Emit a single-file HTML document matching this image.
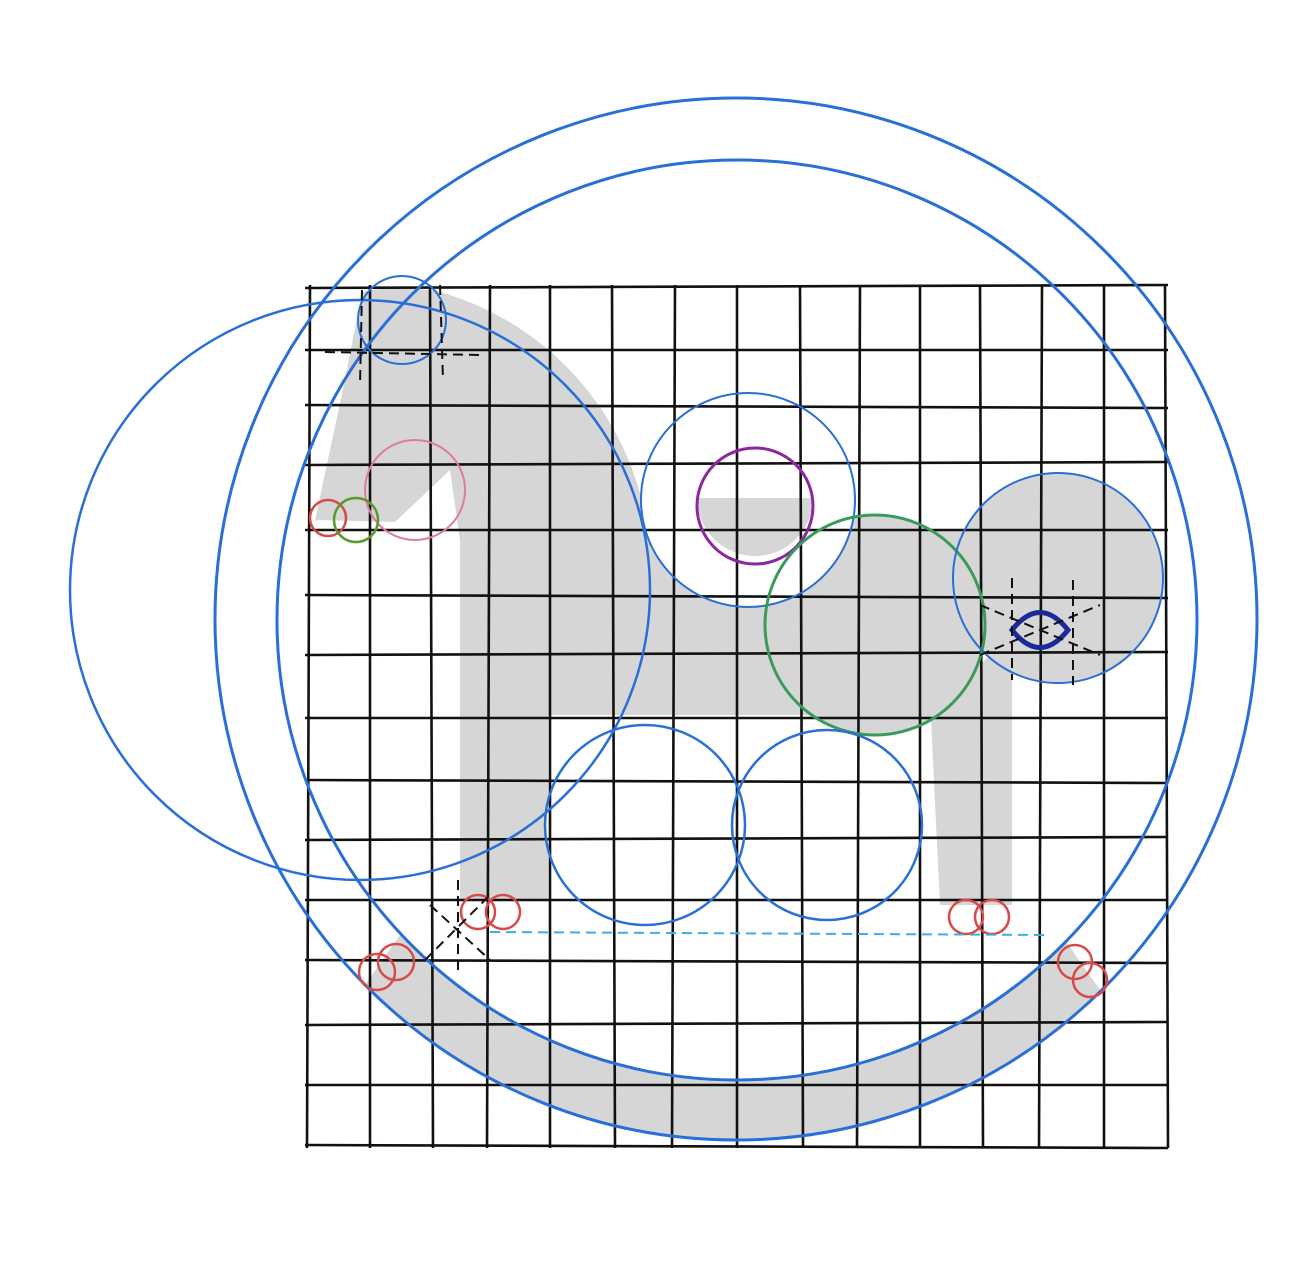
<!DOCTYPE html>
<html><head><meta charset="utf-8"><style>
html,body{margin:0;padding:0;background:#fff;}
svg{display:block;}
</style></head><body>
<svg width="1290" height="1266" viewBox="0 0 1290 1266">
<rect width="1290" height="1266" fill="#fff"/>
<g fill="#d6d6d6">
  <path d="M315,520 L345,380 L362,292 Q400,284 440,292 A290 290 0 0 1 650,590 L650,715 L548,715 L548,900 L460,900 L460,540 L450,470 L395,522 Z"/>
  <rect x="640" y="530" width="330" height="185"/>
  <circle cx="1058" cy="578" r="105"/>
  <path d="M930,700 L1012,640 L1012,905 L940,905 Z"/>
  <circle cx="875" cy="625" r="110"/>
  <path d="M365,985 A521 521 0 0 0 1100,990 L1065,940 A460 460 0 0 1 400,935 Z"/>
</g>
<g fill="#fff">
  <circle cx="748" cy="500" r="107"/>
  <circle cx="645" cy="825" r="100"/>
  <circle cx="827" cy="825" r="95"/>
</g>
<path d="M697,498 A58 58 0 0 0 813,498 Z" fill="#d6d6d6"/>
<g stroke="#111" stroke-width="2.6" fill="none" id="grid"></g>
<g fill="none" stroke-width="3">
  <circle cx="736" cy="619" r="521" stroke="#2a6fd6"/>
  <circle cx="737" cy="620" r="460" stroke="#2a6fd6"/>
  <circle cx="360" cy="590" r="290" stroke="#2a6fd6" stroke-width="2.5"/>
  <circle cx="402" cy="320" r="44" stroke="#2a6fd6" stroke-width="2"/>
  <circle cx="748" cy="500" r="107" stroke="#2a6fd6" stroke-width="2"/>
  <circle cx="755" cy="506" r="58" stroke="#8a2a9a" stroke-width="3"/>
  <circle cx="875" cy="625" r="110" stroke="#3a9a5a" stroke-width="3"/>
  <circle cx="1058" cy="578" r="105" stroke="#2a6fd6" stroke-width="2"/>
  <circle cx="645" cy="825" r="100" stroke="#2a6fd6" stroke-width="2.5"/>
  <circle cx="827" cy="825" r="95" stroke="#2a6fd6" stroke-width="2.5"/>
  <circle cx="415" cy="490" r="50" stroke="#e07aa0" stroke-width="2"/>
  <path d="M1012,630 Q1040,595 1068,630 Q1040,665 1012,630 Z" stroke="#1a2a9a" stroke-width="5"/>
  <g stroke="#d84a4a" stroke-width="2.5">
    <circle cx="328" cy="518" r="18"/><circle cx="478" cy="912" r="17"/><circle cx="503" cy="912" r="17"/>
    <circle cx="966" cy="917" r="17"/><circle cx="992" cy="917" r="17"/>
    <circle cx="377" cy="972" r="18"/><circle cx="396" cy="962" r="18"/>
    <circle cx="1075" cy="962" r="17"/><circle cx="1090" cy="980" r="17"/>
  </g>
  <circle cx="356" cy="520" r="22" stroke="#5a9a2a" stroke-width="2.5"/>
</g>
<g stroke="#111" stroke-width="2" stroke-dasharray="10,6" fill="none">
  <line x1="325" y1="352" x2="480" y2="355"/><line x1="362" y1="290" x2="360" y2="385"/><line x1="440" y1="285" x2="443" y2="380"/>
  <line x1="430" y1="905" x2="490" y2="960"/><line x1="425" y1="960" x2="490" y2="895"/><line x1="458" y1="880" x2="458" y2="975"/>
  <line x1="980" y1="605" x2="1100" y2="655"/><line x1="980" y1="655" x2="1100" y2="605"/><line x1="1073" y1="580" x2="1073" y2="685"/>
  <line x1="1012" y1="578" x2="1012" y2="680"/>
  <line x1="490" y1="932" x2="1045" y2="935" stroke="#3ab0e0"/>
</g>
</svg>
<script>
const g=document.getElementById('grid');
const xs=[310,370,430,490,550,612,675,737,800,860,920,980,1042,1104,1165];
const ys=[288,350,405,465,530,595,655,718,780,840,900,960,1025,1085,1145];
xs.forEach((x,i)=>{const l=document.createElementNS('http://www.w3.org/2000/svg','line');


l.setAttribute('x1',x);l.setAttribute('x2',x+(i%3-1)*3);l.setAttribute('y1',285);l.setAttribute('y2',1148);g.appendChild(l);});
ys.forEach((y,i)=>{const l=document.createElementNS('http://www.w3.org/2000/svg','line');


l.setAttribute('x1',305);l.setAttribute('x2',1168);l.setAttribute('y1',y);l.setAttribute('y2',y+(i%3-1)*3);g.appendChild(l);});
</script>
</body></html>
